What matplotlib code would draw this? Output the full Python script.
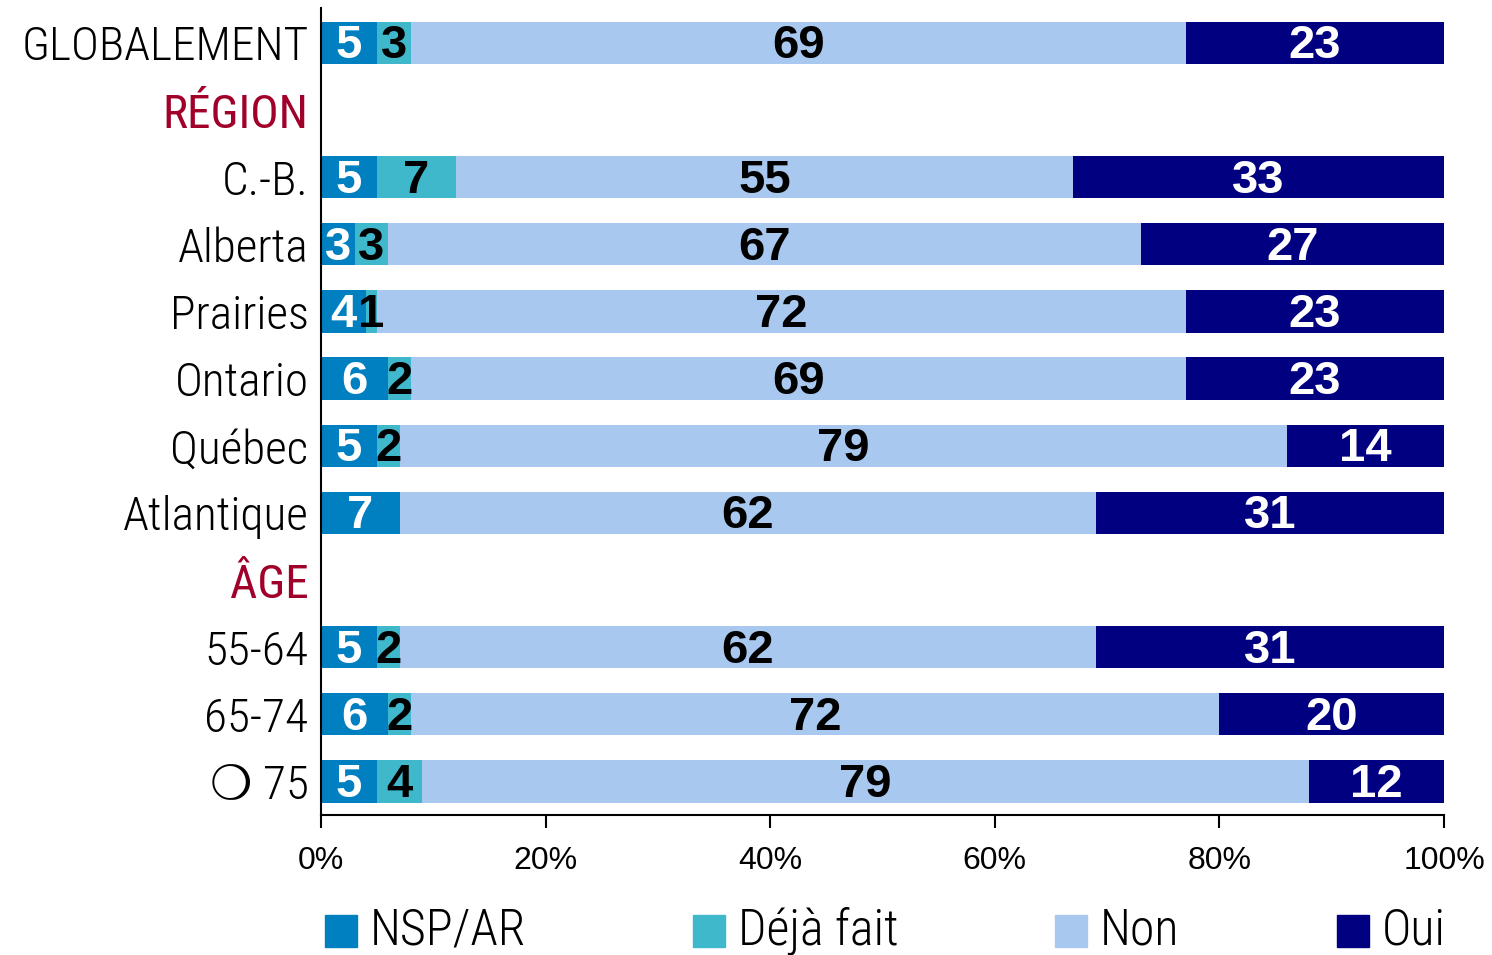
import matplotlib
matplotlib.use("Agg")
import matplotlib.pyplot as plt
from matplotlib.patches import Rectangle
from matplotlib import font_manager as fm

categories = ["GLOBALEMENT", "RÉGION", "C.-B.", "Alberta", "Prairies", "Ontario",
              "Québec", "Atlantique", "ÂGE", "55-64", "65-74", "❍ 75"]
headers = ["RÉGION", "ÂGE"]
nsp = [5, None, 5, 3, 4, 6, 5, 7, None, 5, 6, 5]
deja = [3, None, 7, 3, 1, 2, 2, 0, None, 2, 2, 4]
non = [69, None, 55, 67, 72, 69, 79, 62, None, 62, 72, 79]
oui = [23, None, 33, 27, 23, 23, 14, 31, None, 31, 20, 12]
series_names = ["NSP/AR", "Déjà fait", "Non", "Oui"]
xticks = [0, 20, 40, 60, 80, 100]
xticklabels = ["0%", "20%", "40%", "60%", "80%", "100%"]

colors = ["#0080C0", "#40B8CC", "#A8C8F0", "#000080"]
text_colors = ["white", "black", "black", "white"]
header_color = "#A0002A"

# find a condensed face for the category / legend labels
fonts = fm.fontManager.ttflist
names = {f.name for f in fonts}
cond_family, cond_stretch = None, "normal"
for nm in ["Liberation Sans Narrow", "Arial Narrow", "Roboto Condensed",
           "Open Sans Condensed", "Noto Sans Condensed", "DejaVu Sans Condensed"]:
    if nm in names:
        cond_family = nm
        break
if cond_family is None:
    for nm in ["Noto Sans", "DejaVu Sans", "Open Sans", "Roboto"]:
        if any(f.name == nm and str(f.stretch) in ("condensed", "extra-condensed",
               "semi-condensed", "ultra-condensed") for f in fonts):
            cond_family, cond_stretch = nm, "condensed"
            break
if cond_family is None:
    cond_family = "Liberation Sans"
narrow = [cond_family, "DejaVu Sans"]
LIGHT = 340  # nearest light face of the condensed family, regular DejaVu fallback

fig = plt.figure(figsize=(14.92, 9.55), dpi=100)
ax = fig.add_axes([321/1492, 1-815/955, (1444-321)/1492, (815-8)/955])

series = [nsp, deja, non, oui]
for i, cat in enumerate(categories):
    if cat in headers:
        continue
    left = 0
    for s, vals in enumerate(series):
        v = vals[i]
        ax.barh(i, v, left=left, height=0.63, color=colors[s], edgecolor="none")
        if v > 0:
            ax.text(left + v/2, i + 0.05, str(v), ha="center", va="center",
                    fontsize=34, fontweight="bold", color=text_colors[s],
                    family="Liberation Sans")
        left += v

ax.set_ylim(11.5, -0.52)
ax.set_xlim(0, 100)
ax.set_yticks(range(len(categories)))
ax.set_yticklabels(categories)
for lbl, cat in zip(ax.get_yticklabels(), categories):
    lbl.set_family(narrow)
    lbl.set_stretch(cond_stretch)
    lbl.set_fontsize(34)
    if cat in headers:
        lbl.set_color(header_color)
        lbl.set_weight("normal")
    else:
        lbl.set_weight(LIGHT)
ax.tick_params(axis="y", length=0, pad=9)
ax.set_xticks(xticks)
ax.set_xticklabels(xticklabels, fontsize=23, family="Liberation Sans")
ax.tick_params(axis="x", length=9, width=1.5, direction="out", pad=13)
for sp in ["top", "right"]:
    ax.spines[sp].set_visible(False)
for sp in ["left", "bottom"]:
    ax.spines[sp].set_linewidth(1.5)

# legend
leg_sq_x = [325, 693, 1055, 1337]
leg_y = 931
sq = 32
for x, name, c in zip(leg_sq_x, series_names, colors):
    fig.patches.append(Rectangle((x/1492, 1-(leg_y+sq/2)/955), sq/1492, sq/955,
                                 transform=fig.transFigure, color=c))
    fig.text((x+45)/1492, 1-leg_y/955, name, ha="left", va="center",
             fontsize=36, family=narrow, stretch=cond_stretch, weight=LIGHT)

fig.savefig("out.png", dpi=100)
